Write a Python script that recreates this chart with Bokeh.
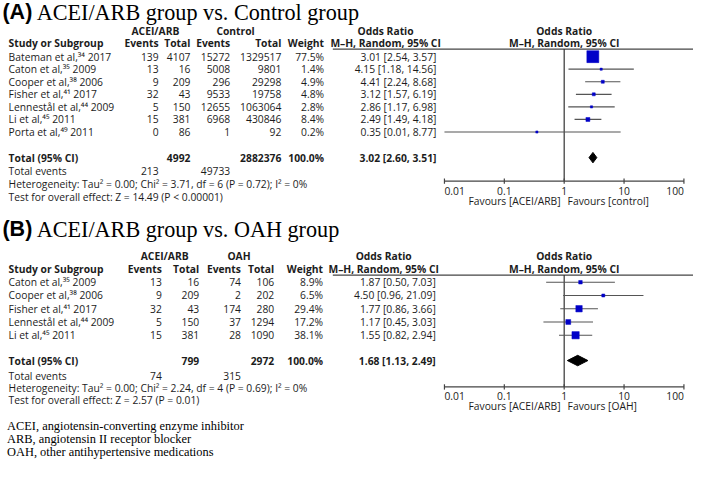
import math
from bokeh.plotting import figure
from bokeh.models import ColumnDataSource, Range1d, LogScale
from bokeh.core.properties import value
from bokeh.embed import file_html
from bokeh.resources import INLINE

# ---------------- data: panel A (ACEI/ARB vs Control) ----------------
studies_a = ["Bateman et al,\u00b3\u2074 2017", "Caton et al,\u00b3\u2075 2009", "Cooper et al,\u00b3\u2078 2006",
             "Fisher et al,\u2074\u00b9 2017", "Lennest\u00e5l et al,\u2074\u2074 2009", "Li et al,\u2074\u2075 2011",
             "Porta et al,\u2074\u2079 2011"]
events1_a = [139, 13, 9, 32, 5, 15, 0]
total1_a = [4107, 16, 209, 43, 150, 381, 86]
events2_a = [15272, 5008, 296, 9533, 12655, 6968, 1]
total2_a = [1329517, 9801, 29298, 19758, 1063064, 430846, 92]
weight_a = [77.5, 1.4, 4.9, 4.8, 2.8, 8.4, 0.2]
or_a = [3.01, 4.15, 4.41, 3.12, 2.86, 2.49, 0.35]
lo_a = [2.54, 1.18, 2.24, 1.57, 1.17, 1.49, 0.01]
hi_a = [3.57, 14.56, 8.68, 6.19, 6.98, 4.18, 8.77]
pooled_a = [3.02, 2.60, 3.51]
sum_totals_a = [4992, 2882376]
sum_events_a = [213, 49733]
het_a = "Heterogeneity: Tau\u00b2 = 0.00; Chi\u00b2 = 3.71, df = 6 (P = 0.72); I\u00b2 = 0%"
test_a = "Test for overall effect: Z = 14.49 (P < 0.00001)"

# ---------------- data: panel B (ACEI/ARB vs OAH) ----------------
studies_b = ["Caton et al,\u00b3\u2075 2009", "Cooper et al,\u00b3\u2078 2006", "Fisher et al,\u2074\u00b9 2017",
             "Lennest\u00e5l et al,\u2074\u2074 2009", "Li et al,\u2074\u2075 2011"]
events1_b = [13, 9, 32, 5, 15]
total1_b = [16, 209, 43, 150, 381]
events2_b = [74, 2, 174, 37, 28]
total2_b = [106, 202, 280, 1294, 1090]
weight_b = [8.9, 6.5, 29.4, 17.2, 38.1]
or_b = [1.87, 4.50, 1.77, 1.17, 1.55]
lo_b = [0.50, 0.96, 0.86, 0.45, 0.82]
hi_b = [7.03, 21.09, 3.66, 3.03, 2.94]
pooled_b = [1.68, 1.13, 2.49]
sum_totals_b = [799, 2972]
sum_events_b = [74, 315]
het_b = "Heterogeneity: Tau\u00b2 = 0.00; Chi\u00b2 = 2.24, df = 4 (P = 0.69); I\u00b2 = 0%"
test_b = "Test for overall effect: Z = 2.57 (P = 0.01)"

tick_values = [0.01, 0.1, 1, 10, 100]
tick_labels = ["0.01", "0.1", "1", "10", "100"]

footnotes = ["ACEI, angiotensin-converting enzyme inhibitor",
             "ARB, angiotensin II receptor blocker",
             "OAH, other antihypertensive medications"]

# ---------------- styling ----------------
SANS = "Open Sans"
SERIF = "Liberation Serif"
TXT = "#1c1c1c"
FS = 10.3
BLUE = "#0000c8"

p = figure(width=693, height=463, x_range=Range1d(0, 709), y_range=Range1d(470, 0),
           output_backend="svg", toolbar_location=None, min_border=0)
p.xaxis.visible = False
p.yaxis.visible = False
p.grid.visible = False
p.outline_line_color = None
p.background_fill_color = "white"

# log scale for the odds-ratio panel: OR=1 at x=576.7, 61.25 px per decade
OR1_X, DECADE = 576.7, 61.25
p.extra_x_ranges = {"or": Range1d(10 ** ((0 - OR1_X) / DECADE), 10 ** ((709 - OR1_X) / DECADE))}
p.extra_x_scales = {"or": LogScale()}


def txt(xs, ys, texts, align="left", size=FS, bold=False, font=SANS, color=TXT, rng=None):
    src = ColumnDataSource(dict(x=list(xs), y=list(ys), t=list(texts)))
    kw = {"x_range_name": rng} if rng else {}
    p.text(x="x", y="y", text="t", source=src, text_align=align, text_baseline="middle",
           text_font=value(font), text_font_size=f"{size}px",
           text_font_style="bold" if bold else "normal", text_color=color, **kw)


def panel(letter, title, g1, g2, studies, ev1, tot1, ev2, tot2, wt, orv, lo, hi, pooled,
          sums, sev, het, test, fav2, L, C):
    # title
    txt([2], [L["title"]], [letter], size=21.5, bold=True, font="Liberation Sans", color="#000")
    txt([37], [L["title"] + 0.5], [title], size=22.2, font=SERIF, color="#000")
    # header rows
    txt([C["g1"], C["g2"]], [L["h1"]] * 2, [g1, g2], align="center", bold=True)
    txt([C["orh"], 576.7], [L["h1"]] * 2, ["Odds Ratio", "Odds Ratio"], align="center", bold=True)
    txt([C["name"]], [L["h2"]], ["Study or Subgroup"], bold=True)
    txt([C["ev1"], C["tot1"], C["ev2"], C["tot2"], C["wt"]], [L["h2"]] * 5,
        ["Events", "Total", "Events", "Total", "Weight"], align="right", bold=True)
    txt([C["orh"], 576.7], [L["h2"]] * 2, ["M\u2013H, Random, 95% CI"] * 2, align="center", bold=True)
    p.segment(x0=[C["line0"]], y0=[L["line"]], x1=[709], y1=[L["line"]], line_color="#444", line_width=1.2)

    n = len(studies)
    ys = [L["row0"] + i * L["step"] for i in range(n)]
    txt([C["name"]] * n, ys, studies)
    txt([C["ev1"]] * n, ys, [str(v) for v in ev1], align="right")
    txt([C["tot1"]] * n, ys, [str(v) for v in tot1], align="right")
    txt([C["ev2"]] * n, ys, [str(v) for v in ev2], align="right")
    txt([C["tot2"]] * n, ys, [str(v) for v in tot2], align="right")
    txt([C["wt"]] * n, ys, [f"{w:.1f}%" for w in wt], align="right")
    txt([C["ci"]] * n, ys, [f"{o:.2f} [{a:.2f}, {b:.2f}]" for o, a, b in zip(orv, lo, hi)], align="right")

    # totals
    ty = L["total"]
    txt([C["name"]], [ty], ["Total (95% CI)"], bold=True)
    txt([C["tot1"], C["tot2"], C["wt"]], [ty] * 3, [str(sums[0]), str(sums[1]), "100.0%"], align="right", bold=True)
    txt([C["ci"]], [ty], [f"{pooled[0]:.2f} [{pooled[1]:.2f}, {pooled[2]:.2f}]"], align="right", bold=True)
    txt([C["name"]], [L["events"]], ["Total events"])
    txt([C["ev1"], C["ev2"]], [L["events"]] * 2, [str(sev[0]), str(sev[1])], align="right")
    txt([C["name"]], [L["het"]], [het])
    txt([C["name"]], [L["test"]], [test])

    # forest: vertical line at OR = 1
    p.segment(x0=[1], y0=[L["line"]], x1=[1], y1=[L["axis"]], x_range_name="or", line_color="#333", line_width=1.2)
    # confidence intervals
    src = ColumnDataSource(dict(o=orv, lo=lo, hi=hi, y=ys,
                                s=[max(2.2, C["box"] * math.sqrt(w)) for w in wt]))
    p.segment(x0="lo", y0="y", x1="hi", y1="y", source=src, x_range_name="or", line_color="#555", line_width=1.2)
    p.scatter(x="o", y="y", size="s", marker="square", source=src, x_range_name="or",
              fill_color=BLUE, line_color=BLUE, line_width=0.5)
    # pooled diamond
    h = 5.3
    p.patch(x=[pooled[1], pooled[0], pooled[2], pooled[0]], y=[ty, ty - h, ty, ty + h],
            x_range_name="or", fill_color="black", line_color="black")
    # axis
    ay = L["axis"]
    p.segment(x0=[tick_values[0]], y0=[ay], x1=[tick_values[-1]], y1=[ay], x_range_name="or",
              line_color="#444", line_width=1.2)
    p.segment(x0=tick_values, y0=[ay - 2.7] * 5, x1=tick_values, y1=[ay + 2.7] * 5, x_range_name="or",
              line_color="#444", line_width=1.2)
    aligns = ["left", "center", "center", "center", "right"]
    for v, lab, al in zip(tick_values, tick_labels, aligns):
        txt([v], [L["ticks"]], [lab], align=al, rng="or")
    txt([0.87], [L["fav"]], ["Favours [ACEI/ARB]"], align="right", rng="or")
    txt([1.14], [L["fav"]], [fav2], align="left", rng="or")


LA = dict(title=12, h1=30.7, h2=42.7, line=49.3, row0=57.0, step=12.75, total=159.5, events=173.0,
          het=186.5, test=199.3, axis=183.3, ticks=193.5, fav=203.5)
CA = dict(name=8.3, ev1=161.7, tot1=194.3, ev2=235, tot2=287.3, wt=331, ci=446, g1=158.5, g2=240.5,
          orh=394, line0=340, box=1.36)
LB = dict(title=232, h1=259.3, h2=272.3, line=278.7, row0=286.0, step=13.45, total=365.5, events=381.0,
          het=393.3, test=405.7, axis=392.3, ticks=401.5, fav=412.0)
CB = dict(name=8.3, ev1=165, tot1=203.3, ev2=246, tot2=280, wt=330, ci=445.3, g1=168, g2=244,
          orh=392, line0=340, box=1.18)

panel("(A)", "ACEI/ARB group vs. Control group", "ACEI/ARB", "Control",
      studies_a, events1_a, total1_a, events2_a, total2_a, weight_a, or_a, lo_a, hi_a, pooled_a,
      sum_totals_a, sum_events_a, het_a, test_a, "Favours [control]", LA, CA)
panel("(B)", "ACEI/ARB group vs. OAH group", "ACEI/ARB", "OAH",
      studies_b, events1_b, total1_b, events2_b, total2_b, weight_b, or_b, lo_b, hi_b, pooled_b,
      sum_totals_b, sum_events_b, het_b, test_b, "Favours [OAH]", LB, CB)

txt([6.7] * 3, [431.7, 445.0, 458.3], footnotes, size=12.4, font=SERIF, color="#000")

open("out.html", "w").write(file_html(p, INLINE))
